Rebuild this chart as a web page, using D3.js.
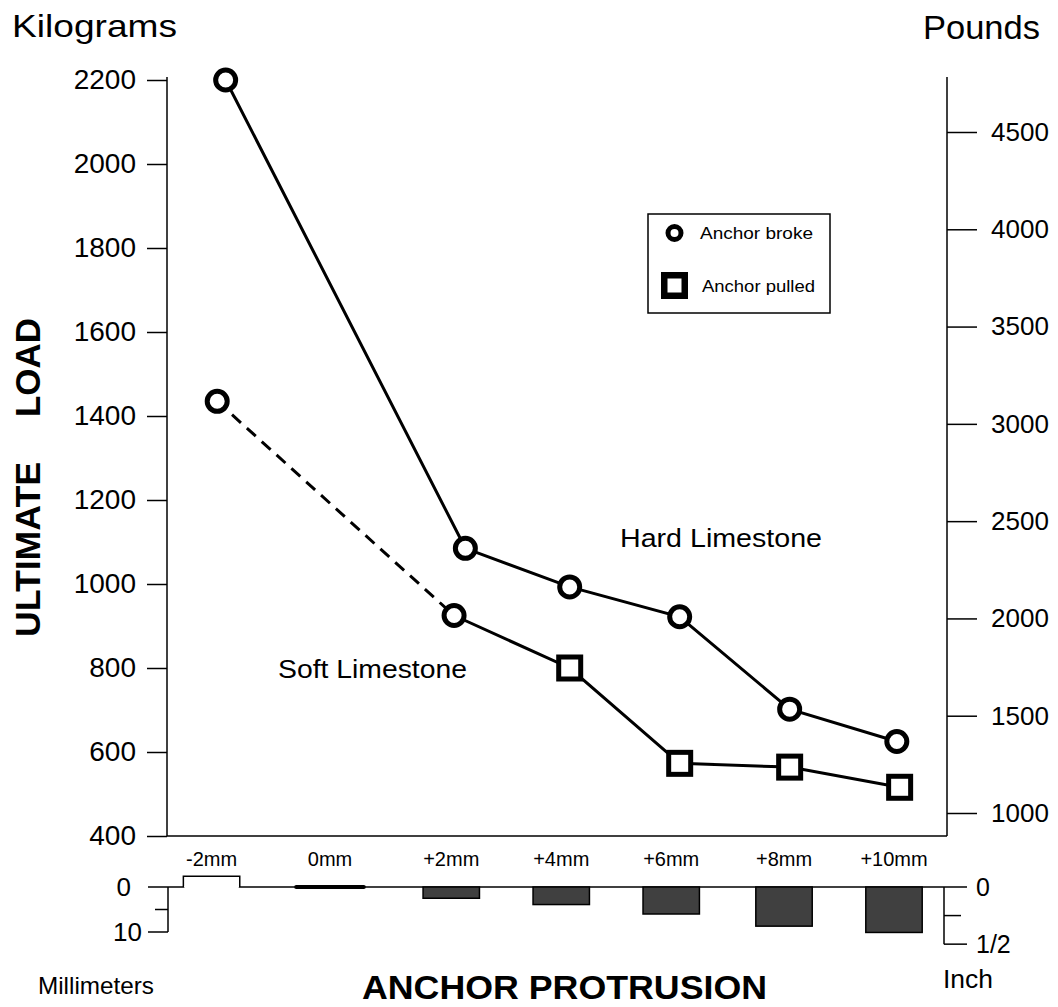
<!DOCTYPE html>
<html>
<head>
<meta charset="utf-8">
<script src="https://cdn.jsdelivr.net/npm/d3@7"></script>
<style>
  html, body { margin: 0; padding: 0; background: #fff; }
  svg { display: block; font-family: "Liberation Sans", Arial, Helvetica, sans-serif; }
</style>
</head>
<body>
<svg id="chart" width="1058" height="1007"></svg>
<script>
// ---------------- DATA ----------------
const categories = ["-2mm", "0mm", "+2mm", "+4mm", "+6mm", "+8mm", "+10mm"];
const categoryMm = [-2.1, 0, 2.15, 4.1, 6.05, 8.05, 10.0];          // plotted positions (mm)
const protrusionDepthMm = [-2.4, 0, 2.5, 3.9, 6.0, 8.7, 10.1];      // strip block depths (mm)

const hardX = [-1.85, 2.4, 4.25, 6.2, 8.15, 10.05];
const hardLoadKg = [2200, 1085, 993, 922, 702, 625];
const hardFailure = ["broke", "broke", "broke", "broke", "broke", "broke"];

const softX = [-2.0, 2.2, 4.25, 6.2, 8.15, 10.1];
const softLoadKg = [1435, 925, 800, 573, 564, 516];
const softFailure = ["broke", "broke", "pulled", "pulled", "pulled", "pulled"];

const kgTicks = [400, 600, 800, 1000, 1200, 1400, 1600, 1800, 2000, 2200];
const lbTicks = [1000, 1500, 2000, 2500, 3000, 3500, 4000, 4500];
const mmTicks = [0, 5, 10];
const mmTickLabels = ["0", "", "10"];
const inchTicks = [0, 0.25, 0.5];
const inchTickLabels = ["0", "", "1/2"];
const legendItems = ["Anchor broke", "Anchor pulled"];
const legendSymbols = ["broke", "pulled"];

// ---------------- SCALES ----------------
const svg = d3.select("#chart");
const xMm = d3.scaleLinear().domain([0, 10]).range([330, 894]);
const yKg = d3.scaleLinear().domain([400, 2200]).range([836, 80]);
const yLb = d3.scaleLinear().domain([1000, 4500]).range([813, 132]);
const yStrip = d3.scaleLinear().domain([0, 10]).range([887, 932]);
const yInch = v => yStrip(v * 25.4);

const plotLeft = 167, plotRight = 947;
const axisTop = 77;

// ---------------- AXES ----------------
const leftAxis = d3.axisLeft(yKg).tickValues(kgTicks).tickSize(20).tickSizeOuter(0).tickPadding(11)
  .tickFormat(d3.format("d"));
const gL = svg.append("g").attr("transform", `translate(${plotLeft},0)`).call(leftAxis);
gL.select(".domain").remove();
gL.selectAll(".tick line").attr("stroke", "#000").attr("stroke-width", 1.5);
gL.selectAll(".tick text").attr("font-size", 28).attr("fill", "#000").attr("font-family", "Liberation Sans, Arial, sans-serif");
svg.append("line").attr("x1", plotLeft).attr("x2", plotLeft).attr("y1", axisTop).attr("y2", yKg(400))
  .attr("stroke", "#000").attr("stroke-width", 1.5);

const rightAxis = d3.axisRight(yLb).tickValues(lbTicks).tickSize(30).tickSizeOuter(0).tickPadding(14)
  .tickFormat(d3.format("d"));
const gR = svg.append("g").attr("transform", `translate(${plotRight},0)`).call(rightAxis);
gR.select(".domain").remove();
gR.selectAll(".tick line").attr("stroke", "#000").attr("stroke-width", 1.5);
gR.selectAll(".tick text").attr("font-size", 26).attr("fill", "#000").attr("font-family", "Liberation Sans, Arial, sans-serif");
svg.append("line").attr("x1", plotRight).attr("x2", plotRight).attr("y1", axisTop).attr("y2", yKg(400))
  .attr("stroke", "#000").attr("stroke-width", 1.5);

// bottom frame line
svg.append("line").attr("x1", plotLeft).attr("x2", plotRight).attr("y1", yKg(400)).attr("y2", yKg(400))
  .attr("stroke", "#000").attr("stroke-width", 1.5);

// axis titles
svg.append("text").attr("x", 12).attr("y", 37).attr("font-size", 32)
  .attr("textLength", 165).attr("lengthAdjust", "spacingAndGlyphs").text("Kilograms");
svg.append("text").attr("x", 923).attr("y", 39).attr("font-size", 34)
  .attr("textLength", 117).attr("lengthAdjust", "spacingAndGlyphs").text("Pounds");

svg.append("text").attr("transform", "translate(40,637) rotate(-90)")
  .attr("font-size", 35).attr("font-weight", "bold")
  .attr("textLength", 175).attr("lengthAdjust", "spacingAndGlyphs").text("ULTIMATE");
svg.append("text").attr("transform", "translate(40,417) rotate(-90)")
  .attr("font-size", 35).attr("font-weight", "bold")
  .attr("textLength", 99).attr("lengthAdjust", "spacingAndGlyphs").text("LOAD");

// ---------------- SERIES ----------------
function ptsOf(xs, ys, fs) { return xs.map((x, i) => ({ x: x, y: ys[i], f: fs[i] })); }
const hard = ptsOf(hardX, hardLoadKg, hardFailure);
const soft = ptsOf(softX, softLoadKg, softFailure);
const line = d3.line().x(d => xMm(d.x)).y(d => yKg(d.y));

const lines = svg.append("g").attr("fill", "none").attr("stroke", "#000").attr("stroke-width", 3);
lines.append("path").attr("d", line(hard));
lines.append("path").attr("d", line(soft.slice(0, 2))).attr("stroke-dasharray", "12,8");
lines.append("path").attr("d", line(soft.slice(1)));

function drawMarker(g, cx, cy, type, big) {
  if (type === "broke") {
    g.append("circle").attr("cx", cx).attr("cy", cy).attr("r", big ? 10 : 6.5)
      .attr("fill", "#fff").attr("stroke", "#000").attr("stroke-width", 5);
  } else {
    const s = big ? 22 : 20.5;
    g.append("rect").attr("x", cx - s / 2).attr("y", cy - s / 2).attr("width", s).attr("height", s)
      .attr("fill", "#fff").attr("stroke", "#000").attr("stroke-width", big ? 5 : 6.5);
  }
}
const markers = svg.append("g");
hard.concat(soft).forEach(d => drawMarker(markers, xMm(d.x), yKg(d.y), d.f, true));

// annotations
svg.append("text").attr("x", 620).attr("y", 547).attr("font-size", 26)
  .attr("textLength", 202).attr("lengthAdjust", "spacingAndGlyphs").text("Hard Limestone");
svg.append("text").attr("x", 278).attr("y", 678).attr("font-size", 26)
  .attr("textLength", 189).attr("lengthAdjust", "spacingAndGlyphs").text("Soft Limestone");

// ---------------- LEGEND ----------------
const lg = svg.append("g");
lg.append("rect").attr("x", 648).attr("y", 214).attr("width", 182).attr("height", 99)
  .attr("fill", "#fff").attr("stroke", "#000").attr("stroke-width", 1.5);
legendItems.forEach((t, i) => {
  const cy = 233 + i * 52.5;
  drawMarker(lg, 674.5, cy, legendSymbols[i], false);
  lg.append("text").attr("x", 700 + i * 2).attr("y", cy + 6).attr("font-size", 17)
    .attr("textLength", 113).attr("lengthAdjust", "spacingAndGlyphs").text(t);
});

// ---------------- PROTRUSION STRIP ----------------
const strip = svg.append("g");
const barW = xMm(1) - xMm(0);
strip.append("line").attr("x1", 148).attr("x2", 967).attr("y1", yStrip(0)).attr("y2", yStrip(0))
  .attr("stroke", "#000").attr("stroke-width", 1.5);

categories.forEach((c, i) => {
  const cx = xMm(categoryMm[i]);
  const dpt = protrusionDepthMm[i];
  strip.append("text").attr("x", cx).attr("y", 866).attr("text-anchor", "middle")
    .attr("font-size", 20).text(c);
  if (dpt === 0) {
    strip.append("line").attr("x1", cx - barW * 0.6).attr("x2", cx + barW * 0.6)
      .attr("y1", yStrip(0)).attr("y2", yStrip(0))
      .attr("stroke", "#000").attr("stroke-width", 4).attr("stroke-linecap", "round");
  } else if (dpt < 0) {
    strip.append("path")
      .attr("d", `M${cx - barW / 2},${yStrip(0)} V${yStrip(dpt)} H${cx + barW / 2} V${yStrip(0)}`)
      .attr("fill", "#fff").attr("stroke", "#000").attr("stroke-width", 1.5);
    strip.append("line").attr("x1", cx - barW / 2 + 1).attr("x2", cx + barW / 2 - 1)
      .attr("y1", yStrip(0)).attr("y2", yStrip(0)).attr("stroke", "#fff").attr("stroke-width", 2);
  } else {
    strip.append("rect").attr("x", cx - barW / 2).attr("y", yStrip(0)).attr("width", barW)
      .attr("height", yStrip(dpt) - yStrip(0))
      .attr("fill", "#404040").attr("stroke", "#000").attr("stroke-width", 1.5);
  }
});

// left mm bracket
const mmX = 168;
strip.append("line").attr("x1", mmX).attr("x2", mmX).attr("y1", yStrip(0)).attr("y2", yStrip(10))
  .attr("stroke", "#000").attr("stroke-width", 1.5);
mmTicks.forEach((t, i) => {
  if (t === 0) return;
  strip.append("line").attr("x1", mmX - (t === 10 ? 20 : 13)).attr("x2", mmX)
    .attr("y1", yStrip(t)).attr("y2", yStrip(t)).attr("stroke", "#000").attr("stroke-width", 1.5);
});
mmTicks.forEach((t, i) => {
  if (!mmTickLabels[i]) return;
  strip.append("text").attr("x", t === 0 ? 131 : 142).attr("y", yStrip(t)).attr("dy", "0.35em")
    .attr("text-anchor", "end").attr("font-size", 26).text(mmTickLabels[i]);
});

// right inch bracket
const inX = 944;
strip.append("line").attr("x1", inX).attr("x2", inX).attr("y1", yInch(0)).attr("y2", yInch(0.5))
  .attr("stroke", "#000").attr("stroke-width", 1.5);
inchTicks.forEach((t, i) => {
  if (t === 0) return;
  strip.append("line").attr("x1", inX).attr("x2", inX + (t === 0.5 ? 23 : 17))
    .attr("y1", yInch(t)).attr("y2", yInch(t)).attr("stroke", "#000").attr("stroke-width", 1.5);
});
inchTicks.forEach((t, i) => {
  if (!inchTickLabels[i]) return;
  strip.append("text").attr("x", 976).attr("y", yInch(t)).attr("dy", "0.35em")
    .attr("font-size", 25).text(inchTickLabels[i]);
});

svg.append("text").attr("x", 38).attr("y", 994).attr("font-size", 24)
  .attr("textLength", 116).attr("lengthAdjust", "spacingAndGlyphs").text("Millimeters");
svg.append("text").attr("x", 943).attr("y", 988).attr("font-size", 25)
  .attr("textLength", 50).attr("lengthAdjust", "spacingAndGlyphs").text("Inch");
svg.append("text").attr("x", 362).attr("y", 999).attr("font-size", 33).attr("font-weight", "bold")
  .attr("textLength", 405).attr("lengthAdjust", "spacingAndGlyphs").text("ANCHOR PROTRUSION");
</script>
</body>
</html>
